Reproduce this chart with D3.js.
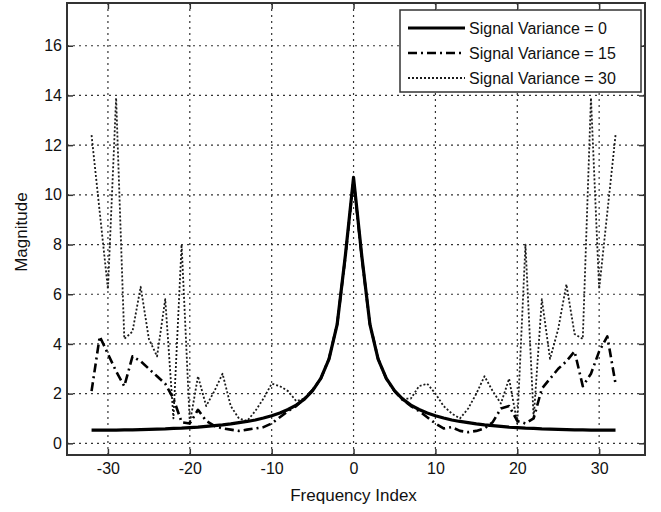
<!DOCTYPE html>
<html lang="en">
  <head>
    <meta charset="utf-8">
    <title>Magnitude vs Frequency Index</title>
    <style>
      body { margin: 0; background: #fff; }
      text { font-family: "Liberation Sans", Arial, sans-serif; fill: #111; }
    </style>
    <script src="https://d3js.org/d3.v7.min.js"></script>
  </head>
  <body>

    <div id="viz"></div>

    <script>

    // frequency index -32 .. 32
    var freqIndex = d3.range(-32, 33);

    var var0 = [0.53, 0.53, 0.53, 0.53, 0.54, 0.54, 0.55, 0.56, 0.57, 0.58, 0.60, 0.61, 0.63,
                0.65, 0.68, 0.71, 0.74, 0.78, 0.83, 0.88, 0.94, 1.02, 1.11, 1.22, 1.36, 1.54,
                1.78, 2.12, 2.61, 3.39, 4.79, 7.56, 10.70,
                7.56, 4.79, 3.39, 2.61, 2.12, 1.78, 1.54, 1.36, 1.22, 1.11, 1.02, 0.94, 0.88,
                0.83, 0.78, 0.74, 0.71, 0.68, 0.65, 0.63, 0.61, 0.60, 0.58, 0.57, 0.56, 0.55,
                0.54, 0.54, 0.53, 0.53, 0.53, 0.53];

    var var15 = [2.1, 4.3, 3.6, 2.9, 2.3, 3.5, 3.3, 3.0, 2.7, 2.4, 1.8, 0.85, 0.8,
                 1.35, 0.9, 0.7, 0.6, 0.55, 0.5, 0.55, 0.6, 0.65, 0.8, 1.05, 1.3, 1.5,
                 1.8, 2.15, 2.6, 3.4, 4.8, 7.5, 10.6,
                 7.5, 4.8, 3.4, 2.6, 2.1, 1.75, 1.5, 1.3, 1.05, 0.8, 0.6, 0.65, 0.5,
                 0.45, 0.5, 0.6, 0.85, 1.4, 1.5, 0.9, 0.8, 1.0, 2.2, 2.6, 3.0, 3.3,
                 3.7, 2.3, 2.8, 3.7, 4.3, 2.4];

    var var30 = [12.4, 9.3, 6.2, 13.9, 4.2, 4.5, 6.3, 4.2, 3.5, 5.8, 1.0, 8.0, 0.8,
                 2.7, 1.5, 2.1, 2.8, 1.5, 1.0, 0.9, 1.3, 1.8, 2.4, 2.3, 2.1, 1.7,
                 1.8, 2.1, 2.6, 3.4, 4.8, 7.6, 10.7,
                 7.6, 4.8, 3.4, 2.6, 2.1, 1.8, 1.8, 2.3, 2.4, 2.0, 1.5, 1.2, 1.0,
                 1.4, 2.0, 2.7, 2.1, 1.6, 2.6, 0.8, 8.0, 1.0, 5.8, 3.4, 4.6, 6.4,
                 4.4, 4.2, 13.9, 6.2, 9.3, 12.4];

    var xTicks = [-30, -20, -10, 0, 10, 20, 30];
    var yTicks = [0, 2, 4, 6, 8, 10, 12, 14, 16];

    var seriesNames = ['Signal Variance = 0', 'Signal Variance = 15', 'Signal Variance = 30'];

    var styles = [
      { width: 3.2, dash: null, color: '#000' },
      { width: 2.6, dash: '9,4,2,4', color: '#000' },
      { width: 1.8, dash: '2,2', color: '#1a1a1a' }
    ];

    var W = 661, H = 512;
    var plotL = 67, plotR = 645, plotT = 3, plotB = 455;

    var svg = d3.select('#viz')
        .append('svg')
        .attr('width', W)
        .attr('height', H);

    var x = d3.scaleLinear().domain([-35, 35.6]).range([plotL, plotR]);
    var y = d3.scaleLinear().domain([-0.47, 17.72]).range([plotB, plotT]);

    // grid
    var grid = svg.append('g')
        .attr('stroke', '#333')
        .attr('stroke-width', 1.2)
        .attr('stroke-dasharray', '2,4');
    grid.selectAll('.gx')
      .data(xTicks)
      .enter().append('line')
        .attr('x1', function(d) { return x(d); })
        .attr('x2', function(d) { return x(d); })
        .attr('y1', plotT)
        .attr('y2', plotB);
    grid.selectAll('.gy')
      .data(yTicks)
      .enter().append('line')
        .attr('x1', plotL)
        .attr('x2', plotR)
        .attr('y1', function(d) { return y(d); })
        .attr('y2', function(d) { return y(d); });

    // series
    var allSeries = [var0, var15, var30];
    var line = d3.line()
        .x(function(d, i) { return x(freqIndex[i]); })
        .y(function(d) { return y(d); });

    // draw dotted first, solid last
    [2, 1, 0].forEach(function(s) {
      svg.append('path')
        .datum(allSeries[s])
        .attr('d', line)
        .attr('fill', 'none')
        .attr('stroke', styles[s].color)
        .attr('stroke-width', styles[s].width)
        .attr('stroke-dasharray', styles[s].dash)
        .attr('stroke-linejoin', 'round');
    });

    // axes with inward ticks
    var xAxis = svg.append('g')
        .attr('transform', 'translate(0,' + plotB + ')')
        .call(d3.axisBottom(x).tickValues(xTicks).tickSizeInner(-6).tickSizeOuter(0).tickPadding(8));
    var yAxis = svg.append('g')
        .attr('transform', 'translate(' + plotL + ',0)')
        .call(d3.axisLeft(y).tickValues(yTicks).tickSizeInner(-6).tickSizeOuter(0).tickPadding(5));
    svg.append('g')
        .attr('transform', 'translate(0,' + plotT + ')')
        .call(d3.axisTop(x).tickValues(xTicks).tickSizeInner(-6).tickSizeOuter(0).tickFormat(''));
    svg.append('g')
        .attr('transform', 'translate(' + plotR + ',0)')
        .call(d3.axisRight(y).tickValues(yTicks).tickSizeInner(-6).tickSizeOuter(0).tickFormat(''));

    svg.selectAll('.domain').remove();
    svg.selectAll('.tick line').attr('stroke', '#333').attr('stroke-width', 1.5);
    svg.selectAll('.tick text')
        .style('font-family', '"Liberation Sans", Arial, sans-serif')
        .style('font-size', '16px')
        .attr('fill', '#222');
    xAxis.selectAll('.tick text').text(function(d) { return String(d); });

    // frame
    svg.append('rect')
        .attr('x', plotL)
        .attr('y', plotT)
        .attr('width', plotR - plotL)
        .attr('height', plotB - plotT)
        .attr('fill', 'none')
        .attr('stroke', '#333')
        .attr('stroke-width', 2);

    // axis labels
    svg.append('text')
        .attr('x', x(0))
        .attr('y', 501)
        .attr('text-anchor', 'middle')
        .style('font-size', '17px')
        .text('Frequency Index');

    svg.append('text')
        .attr('transform', 'translate(27,' + (y(8.5)) + ') rotate(-90)')
        .attr('text-anchor', 'middle')
        .style('font-size', '17px')
        .text('Magnitude');

    // legend
    var lg = svg.append('g').attr('transform', 'translate(400,10)');
    lg.append('rect')
        .attr('width', 241)
        .attr('height', 82)
        .attr('fill', '#fff')
        .attr('stroke', '#333')
        .attr('stroke-width', 1.5);
    seriesNames.forEach(function(name, i) {
      var ly = 18 + i * 25;
      lg.append('line')
        .attr('x1', 8)
        .attr('x2', 65)
        .attr('y1', ly)
        .attr('y2', ly)
        .attr('stroke', styles[i].color)
        .attr('stroke-width', styles[i].width)
        .attr('stroke-dasharray', styles[i].dash);
      lg.append('text')
        .attr('x', 69)
        .attr('y', ly + 6)
        .style('font-size', '16px')
        .text(name);
    });
    </script>
  </body>
</html>
